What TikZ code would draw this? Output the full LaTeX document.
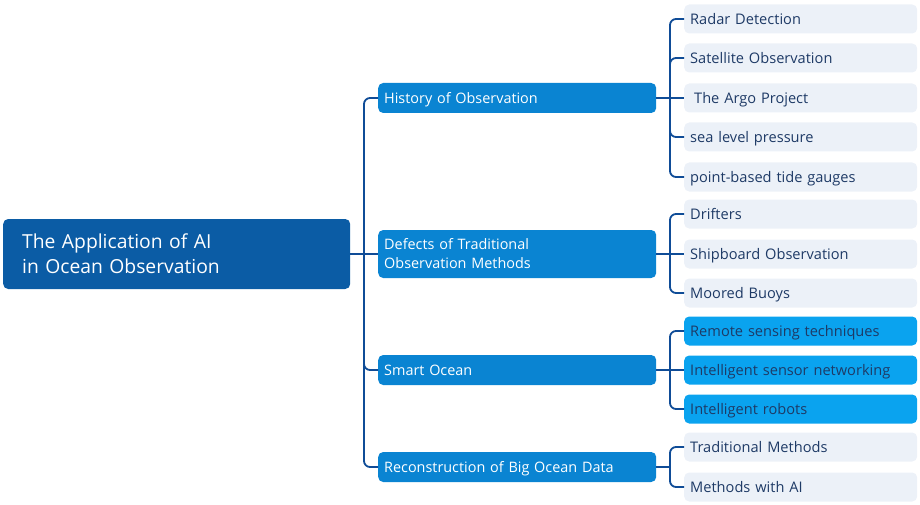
\documentclass[tikz,border=0pt]{standalone}
\usepackage{fontspec}
\setmainfont{Open Sans}
\usepackage{xcolor}
\definecolor{rootblue}{HTML}{0B5CA5}
\definecolor{midblue}{HTML}{0A84D2}
\definecolor{brightblue}{HTML}{0AA3EF}
\definecolor{paleblue}{HTML}{ECF1F8}
\definecolor{wireblue}{HTML}{0F4C97}
\definecolor{leaftext}{HTML}{1E3A66}

\begin{document}
\begin{tikzpicture}[x=1pt,y=-1pt,
  rootbox/.style={fill=rootblue,text=white,rounded corners=5pt,anchor=west,
    minimum height=70pt,inner xsep=19pt,text width=309pt,align=left,
    font=\fontsize{19.3}{25}\selectfont},
  topicbox/.style={fill=midblue,text=white,rounded corners=5pt,anchor=west,
    minimum height=30pt,inner xsep=6pt,text width=266pt,align=left,
    text height=12pt,text depth=1.4pt,
    font=\fontsize{14.4}{19}\selectfont},
  leafbox/.style={fill=paleblue,text=leaftext,rounded corners=5pt,anchor=west,
    minimum height=29pt,inner xsep=6pt,text width=221pt,align=left,
    text height=12pt,text depth=1.4pt,
    font=\fontsize{14.6}{17}\selectfont},
  hotleaf/.style={leafbox,fill=brightblue},
  link/.style={draw=wireblue,line width=1.8pt,rounded corners=6pt}]
\useasboundingbox (0,0) rectangle (920,505);
% Drawing boxes
% root
\node[rootbox] (root) at (3,254) {The Application of AI\\in Ocean Observation};
% topics
\node[topicbox] (hist) at (378,98) {History of Observation};
\node[topicbox,minimum height=48pt,text height={},text depth={}] (defect) at (378,254) {Defects of Traditional\\Observation Methods};
\node[topicbox] (smart) at (378,370) {Smart Ocean};
\node[topicbox] (recon) at (378,467) {Reconstruction of Big Ocean Data};
% leaves of History of Observation
\node[leafbox] (radar) at (684,19) {Radar Detection};
\node[leafbox] (sat) at (684,58) {Satellite Observation};
\node[leafbox] (argo) at (684,98) {\hspace{4pt}The Argo Project};
\node[leafbox] (slp) at (684,137) {sea level pressure};
\node[leafbox] (tide) at (684,177) {point-based tide gauges};
% leaves of Defects
\node[leafbox] (drift) at (684,214) {Drifters};
\node[leafbox] (ship) at (684,254) {Shipboard Observation};
\node[leafbox] (moor) at (684,293) {Moored Buoys};
% leaves of Smart Ocean
\node[hotleaf] (remote) at (684,331) {Remote sensing techniques};
\node[hotleaf] (sensor) at (684,370) {Intelligent sensor networking};
\node[hotleaf] (robot) at (684,409) {Intelligent robots};
% leaves of Reconstruction
\node[leafbox] (trad) at (684,447) {Traditional Methods};
\node[leafbox] (withai) at (684,487) {Methods with AI};
% Done with boxes; drawing wires
\coordinate (rj) at (364,254);
\coordinate (hj) at (670,98);
\coordinate (dj) at (670,254);
\coordinate (sj) at (670,370);
\coordinate (cj) at (670,467);
% root to topics
\draw[link] (root.east) -- (rj);
\draw[link] (rj) |- (hist.west);
\draw[link] (rj) -- (defect.west);
\draw[link] (rj) |- (smart.west);
\draw[link] (rj) |- (recon.west);
% History of Observation
\draw[link] (hist.east) -- (hj);
\draw[link] (hj) |- (radar.west);
\draw[link] (hj) |- (sat.west);
\draw[link] (hj) -- (argo.west);
\draw[link] (hj) |- (slp.west);
\draw[link] (hj) |- (tide.west);
% Defects
\draw[link] (defect.east) -- (dj);
\draw[link] (dj) |- (drift.west);
\draw[link] (dj) -- (ship.west);
\draw[link] (dj) |- (moor.west);
% Smart Ocean
\draw[link] (smart.east) -- (sj);
\draw[link] (sj) |- (remote.west);
\draw[link] (sj) -- (sensor.west);
\draw[link] (sj) |- (robot.west);
% Reconstruction
\draw[link] (recon.east) -- (cj);
\draw[link] (cj) |- (trad.west);
\draw[link] (cj) |- (withai.west);
% Done with wires
\end{tikzpicture}
\end{document}
